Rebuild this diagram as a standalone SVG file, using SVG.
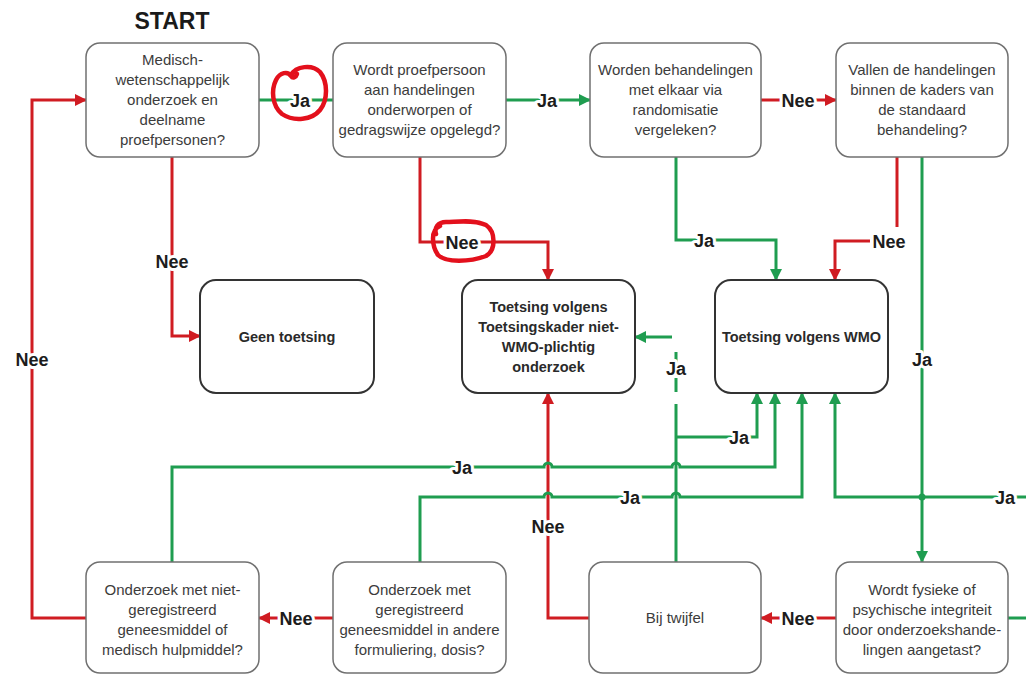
<svg xmlns="http://www.w3.org/2000/svg" width="1026" height="675" viewBox="0 0 1026 675">
<defs>
<marker id="ag" markerWidth="12" markerHeight="12" refX="11" refY="6" orient="auto" markerUnits="userSpaceOnUse"><path d="M0,0 L12,6 L0,12 z" fill="#1f9d50"/></marker>
<marker id="ar" markerWidth="12" markerHeight="12" refX="11" refY="6" orient="auto" markerUnits="userSpaceOnUse"><path d="M0,0 L12,6 L0,12 z" fill="#d01c22"/></marker>
<style>
.q{fill:#fff;stroke:#707070;stroke-width:1.5}
.r{fill:#fff;stroke:#333;stroke-width:2}
.t{font-family:"Liberation Sans",Arial,sans-serif;font-size:15px;fill:#3c3c3c;text-anchor:middle}
.b{font-family:"Liberation Sans",Arial,sans-serif;font-size:14.5px;font-weight:bold;fill:#2a2a2a;text-anchor:middle}
.l{font-family:"Liberation Sans",Arial,sans-serif;font-size:18px;font-weight:bold;fill:#1c1c1c;text-anchor:middle;stroke:#fff;stroke-width:6;paint-order:stroke;stroke-linejoin:round}
.g{fill:none;stroke:#1f9d50;stroke-width:3}
.rd{fill:none;stroke:#d01c22;stroke-width:3}
.ga{fill:none;stroke:#1f9d50;stroke-width:3;marker-end:url(#ag)}
.ra{fill:none;stroke:#d01c22;stroke-width:3;marker-end:url(#ar)}
.circ{fill:none;stroke:#e3101c;stroke-width:4.5;stroke-linecap:round;stroke-linejoin:round}
</style>
</defs>
<rect width="1026" height="675" fill="#fff"/>
<text x="172" y="29" font-family="Liberation Sans,Arial,sans-serif" font-size="23" font-weight="bold" fill="#1a1a1a" text-anchor="middle">START</text>

<g id="connectors">
<path class="g" d="M259,100 H333"/>
<path class="ga" d="M506,100 H590"/>
<path class="ra" d="M761,100 H836"/>
<path class="ra" d="M172,157 V336 H200"/>
<path class="ra" d="M420,157 V242 H548 V280"/>
<path class="ga" d="M676,157 V240 H776 V280"/>
<path class="rd" d="M897,157 V227"/>
<path class="ra" d="M870,241 H835 V280"/>
<path class="ga" d="M922,157 V562"/>
<path class="ra" d="M836,618 H761"/>
<path class="ra" d="M333,618 H259"/>
<path class="ra" d="M86,618 H32 V100 H86"/>
<path class="ra" d="M590,618 H548 V393"/>
<path class="g" d="M676,562 V418"/>
<path class="g" d="M676,418 V342" stroke-dasharray="14,12"/>
<path class="ga" d="M672,337 H635"/>
<path class="ga" d="M676,437 H757 V393"/>
<path class="ga" d="M172,562 V467 H544 a4,4 0 0 1 8,0 H672 a4,4 0 0 1 8,0 H775 V393"/>
<path class="ga" d="M420,562 V497 H544 a4,4 0 0 1 8,0 H672 a4,4 0 0 1 8,0 H802 V393"/>
<path class="ga" d="M1026,497 H835 V393"/>
<circle cx="922" cy="497" r="3.5" fill="#1f9d50"/>
<path class="g" d="M1008,618 H1026"/>

<text class="l" x="300" y="107">Ja</text>
<text class="l" x="547" y="107">Ja</text>
<text class="l" x="798" y="107">Nee</text>
<text class="l" x="172" y="268">Nee</text>
<text class="l" x="462" y="249">Nee</text>
<text class="l" x="704" y="247">Ja</text>
<text class="l" x="889" y="248">Nee</text>
<text class="l" x="922" y="366">Ja</text>
<text class="l" x="32" y="366">Nee</text>
<text class="l" x="676" y="375">Ja</text>
<text class="l" x="739" y="444">Ja</text>
<text class="l" x="462" y="474">Ja</text>
<text class="l" x="630" y="504">Ja</text>
<text class="l" x="1005" y="504">Ja</text>
<text class="l" x="548" y="533">Nee</text>
<text class="l" x="798" y="625">Nee</text>
<text class="l" x="296" y="625">Nee</text>
</g>

<g id="box1"><rect class="q" x="86" y="43" width="173" height="114" rx="14"/>
<text class="t" x="172.5" y="65">Medisch-</text><text class="t" x="172.5" y="85">wetenschappelijk</text><text class="t" x="172.5" y="105">onderzoek en</text><text class="t" x="172.5" y="125">deelname</text><text class="t" x="172.5" y="145">proefpersonen?</text></g>
<g id="box2"><rect class="q" x="333" y="43" width="173" height="114" rx="14"/>
<text class="t" x="419.5" y="75">Wordt proefpersoon</text><text class="t" x="419.5" y="95">aan handelingen</text><text class="t" x="419.5" y="115">onderworpen of</text><text class="t" x="419.5" y="135">gedragswijze opgelegd?</text></g>
<g id="box3"><rect class="q" x="590" y="43" width="171" height="114" rx="14"/>
<text class="t" x="675.5" y="75">Worden behandelingen</text><text class="t" x="675.5" y="95">met elkaar via</text><text class="t" x="675.5" y="115">randomisatie</text><text class="t" x="675.5" y="135">vergeleken?</text></g>
<g id="box4"><rect class="q" x="836" y="43" width="172" height="114" rx="14"/>
<text class="t" x="922" y="75">Vallen de handelingen</text><text class="t" x="922" y="95">binnen de kaders van</text><text class="t" x="922" y="115">de standaard</text><text class="t" x="922" y="135">behandeling?</text></g>

<g id="geen"><rect class="r" x="200" y="280" width="174" height="113" rx="16"/>
<text class="b" x="287" y="342">Geen toetsing</text></g>
<g id="nietwmo"><rect class="r" x="462" y="280" width="173" height="113" rx="16"/>
<text class="b" x="548.5" y="312">Toetsing volgens</text><text class="b" x="548.5" y="332">Toetsingskader niet-</text><text class="b" x="548.5" y="352">WMO-plichtig</text><text class="b" x="548.5" y="372">onderzoek</text></g>
<g id="wmo"><rect class="r" x="715" y="280" width="173" height="113" rx="16"/>
<text class="b" x="801.5" y="342">Toetsing volgens WMO</text></g>

<g id="box5"><rect class="q" x="86" y="562" width="173" height="111" rx="14"/>
<text class="t" x="172.5" y="595">Onderzoek met niet-</text><text class="t" x="172.5" y="615">geregistreerd</text><text class="t" x="172.5" y="635">geneesmiddel of</text><text class="t" x="172.5" y="655">medisch hulpmiddel?</text></g>
<g id="box6"><rect class="q" x="333" y="562" width="173" height="111" rx="14"/>
<text class="t" x="419.5" y="595">Onderzoek met</text><text class="t" x="419.5" y="615">geregistreerd</text><text class="t" x="419.5" y="635">geneesmiddel in andere</text><text class="t" x="419.5" y="655">formuliering, dosis?</text></g>
<g id="box7"><rect class="q" x="589" y="562" width="172" height="111" rx="14"/>
<text class="t" x="675" y="623">Bij twijfel</text></g>
<g id="box8"><rect class="q" x="836" y="562" width="172" height="111" rx="14"/>
<text class="t" x="922" y="595">Wordt fysieke of</text><text class="t" x="922" y="615">psychische integriteit</text><text class="t" x="922" y="635">door onderzoekshande-</text><text class="t" x="922" y="655">lingen aangetast?</text></g>

<g id="annotations">
<path class="circ" d="M291,75 C296,66 312,64 320,72 C328,82 328,100 320,110 C312,120 294,122 282,114 C272,106 271,90 276,80 C280,72 288,71 291,76 C293,79 296,77 297,74"/>
<path class="circ" d="M440,226 C430,230 432,246 438,255 C446,263 470,262 486,256 C496,250 496,232 486,225 C474,219 456,222 446,222 C438,222 434,228 436,234"/>
</g>
</svg>
